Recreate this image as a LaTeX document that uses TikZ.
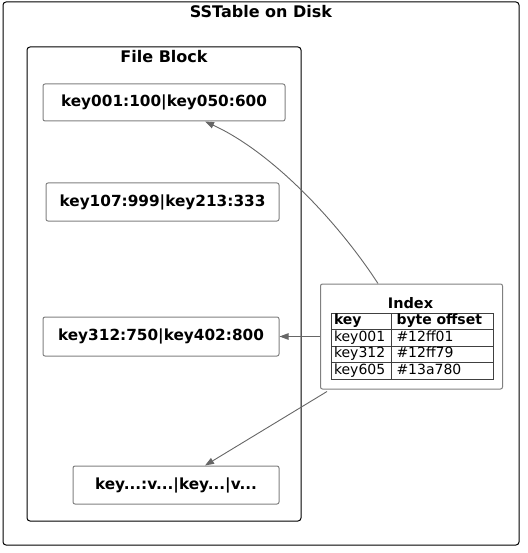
\documentclass[tikz,border=0pt]{standalone}
\usepackage{fontspec}
\setmainfont{DejaVu Sans}
\usetikzlibrary{matrix,arrows.meta}

\begin{document}
\begin{tikzpicture}[x=1pt, y=-1pt, every node/.append style={font=\fontsize{15.3}{18}\selectfont\bfseries}]
    \tikzstyle{frm}=[draw=black, line width=1pt, rounded corners=3pt, inner sep=0pt];
    \tikzstyle{blk}=[draw=gray, line width=1pt, fill=white, rounded corners=2pt, inner sep=0pt];
    \tikzstyle{ttl}=[anchor=base, font=\fontsize{16}{19}\selectfont\bfseries];
    \tikzstyle{lnk}=[draw=black!60, line width=0.9pt, -{Triangle[length=9pt,width=6.5pt]}];
    \useasboundingbox (0,0) rectangle (527,553);
    %frames
    \node[frm, minimum width=516pt, minimum height=543pt] (disk) at (261,273.5) {};
    \node[ttl] (disktitle) at (261,18) {SSTable on Disk};
    \node[frm, minimum width=274pt, minimum height=474pt] (fileblk) at (164,284) {};
    \node[ttl] (fbtitle) at (164,63) {File Block};
    %blocks
    \node[blk, minimum width=242pt, minimum height=37pt] (b1) at (164,102.5) {key001:100|key050:600};
    \node[blk, minimum width=233pt, minimum height=38pt] (b2) at (162.5,202) {key107:999|key213:333};
    \node[blk, minimum width=236pt, minimum height=39pt] (b3) at (161,336.5) {key312:750|key402:800};
    \node[blk, minimum width=206pt, minimum height=38pt] (b4) at (176,485) {key...:v...|key...|v...};
    %index
    \node[blk, minimum width=182pt, minimum height=105pt] (index) at (411.5,336.5) {};
    \node[ttl, font=\fontsize{14.5}{17}\selectfont\bfseries] (idxtitle) at (410.5,308) {Index};
    \matrix (idx) [matrix of nodes, row sep=-0.8pt, column sep=-0.8pt,
      nodes={draw=black!75, line width=0.8pt, minimum height=16.5pt, text height=10pt, text depth=3pt, inner ysep=0pt, font=\fontsize{14}{16}\selectfont, anchor=center},
      column 1/.style={nodes={text width=54pt, inner xsep=3pt}},
      column 2/.style={nodes={text width=91pt, inner xsep=5.5pt}},
      row 1/.style={nodes={font=\fontsize{14}{16}\selectfont\bfseries}}] at (412,346) {
      key & byte offset \\
      key001 & \#12ff01 \\
      key312 & \#12ff79 \\
      key605 & \#13a780 \\
    };
    %links
    \draw[lnk] ([xshift=-33.5pt]index.north) .. controls (338,222) and (272,152) .. ([xshift=41pt]b1.south);
    \draw[lnk] (index.west) -- (b3.east);
    \draw[lnk] ([xshift=-84.5pt,yshift=-2pt]index.south) -- ([xshift=29pt]b4.north);
\end{tikzpicture}
\end{document}
